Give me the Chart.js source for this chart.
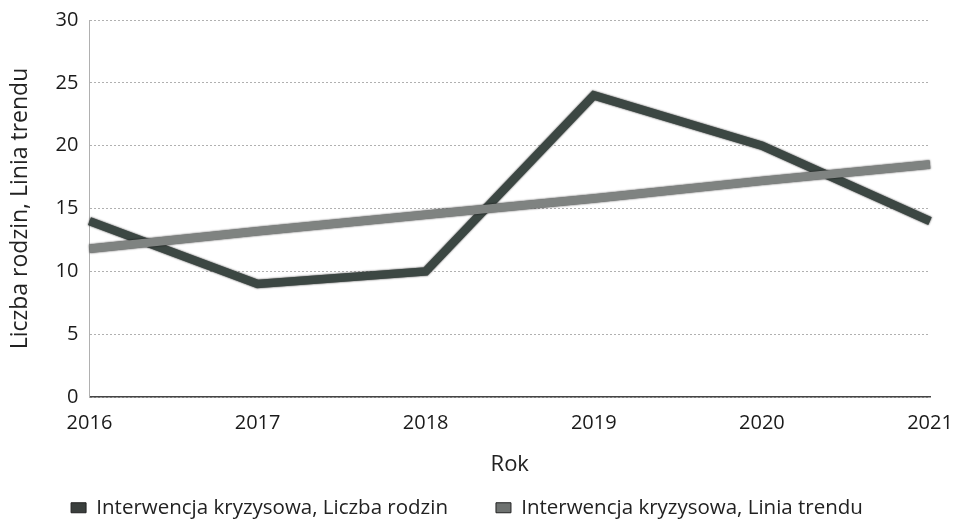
<!DOCTYPE html>
<html>
<head>
<meta charset="utf-8">
<script src="https://cdn.jsdelivr.net/npm/chart.js@4/dist/chart.umd.min.js"></script>
<style>
html,body{margin:0;padding:0;background:#fff;}
#wrap{width:954px;height:525px;position:relative;}
</style>
</head>
<body>
<div id="wrap"><canvas id="c" width="954" height="525"></canvas></div>
<script>
const years = ["2016","2017","2018","2019","2020","2021"];
const liczbaRodzin = [14, 9, 10, 24, 20, 14];
const liniaTrendu = [11.8, 13.2, 14.5, 15.8, 17.2, 18.5];
const seriesNames = ["Interwencja kryzysowa, Liczba rodzin", "Interwencja kryzysowa, Linia trendu"];
const xTitle = "Rok";
const yTitle = "Liczba rodzin, Linia trendu";

const FONT = "'Open Sans', 'Noto Sans', sans-serif";
const legendFill = ['#3a3f3d', '#6e7270'];

const outline = {
  id: 'outline',
  beforeDatasetDraw(chart) {
    const ctx = chart.ctx;
    ctx.save();
    ctx.shadowColor = 'rgba(0,0,0,0.85)';
    ctx.shadowBlur = 2;
  },
  afterDatasetDraw(chart) {
    chart.ctx.restore();
  }
};

new Chart(document.getElementById('c'), {
  type: 'line',
  data: {
    labels: years,
    datasets: [
      {
        label: seriesNames[0],
        data: liczbaRodzin,
        borderColor: '#3c4743',
        backgroundColor: '#3c4743',
        borderWidth: 8.5,
        pointRadius: 0,
        tension: 0,
        borderJoinStyle: 'miter',
        order: 2
      },
      {
        label: seriesNames[1],
        data: liniaTrendu,
        borderColor: '#7f8381',
        backgroundColor: '#7f8381',
        borderWidth: 8.5,
        pointRadius: 0,
        tension: 0,
        order: 1
      }
    ]
  },
  plugins: [outline],
  options: {
    responsive: false,
    animation: false,
    layout: { padding: { left: -20, right: 0, top: 0, bottom: -3 } },
    plugins: {
      legend: {
        position: 'bottom',
        labels: {
          font: { family: FONT, size: 20.5 },
          color: '#222',
          boxWidth: 15,
          boxHeight: 10,
          padding: 48,
          sort: (a, b) => a.datasetIndex - b.datasetIndex,
          generateLabels(chart) {
            const items = Chart.defaults.plugins.legend.labels.generateLabels(chart);
            items.forEach(it => {
              it.fillStyle = legendFill[it.datasetIndex];
              it.strokeStyle = '#222';
              it.lineWidth = 1;
            });
            return items;
          }
        }
      },
      tooltip: { enabled: false }
    },
    scales: {
      x: {
        offset: false,
        afterFit(axis) { axis.paddingRight = 24; axis.paddingLeft = 0; },
        grid: { display: false, drawTicks: false },
        border: { display: true, color: '#444', width: 1.5 },
        ticks: { font: { family: FONT, size: 20 }, color: '#1a1a1a', padding: 14, maxRotation: 0 },
        title: { display: true, text: xTitle, font: { family: FONT, size: 22 }, color: '#222', padding: { top: 2, bottom: -28 } }
      },
      y: {
        min: 0, max: 30,
        afterFit(axis) { axis.paddingTop = 20; axis.paddingBottom = 0; },
        ticks: { stepSize: 5, font: { family: FONT, size: 20 }, color: '#1a1a1a', padding: 11 },
        grid: { color: '#b0b0b0', lineWidth: 1, drawTicks: false },
        border: { display: true, color: '#b0b0b0', dash: [2, 2] },
        title: { display: true, text: yTitle, font: { family: FONT, size: 23 }, color: '#222', padding: { top: 27, bottom: 10 } }
      }
    }
  }
});
</script>
</body>
</html>
